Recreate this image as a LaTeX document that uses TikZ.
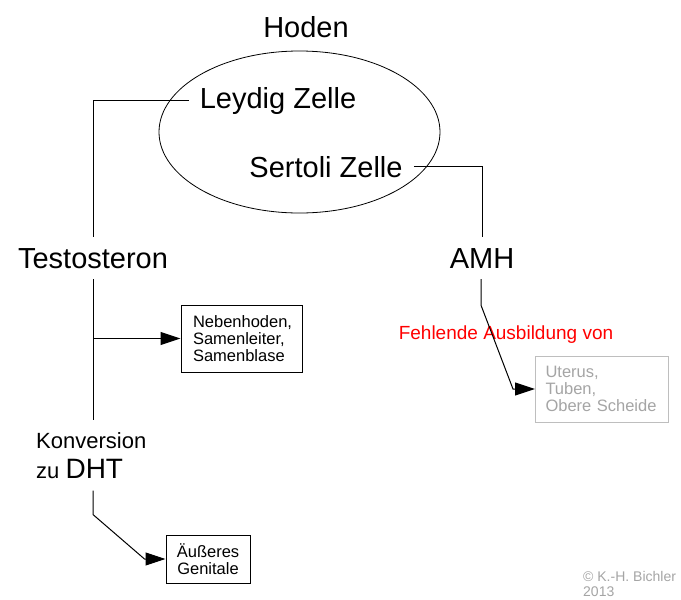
\documentclass[tikz,border=0pt]{standalone}
\usepackage{fontspec}
\setmainfont{Liberation Sans}
\usetikzlibrary{shapes.geometric,arrows.meta}
\definecolor{lightgrey}{RGB}{190,190,190}
\definecolor{textgrey}{RGB}{165,165,165}
\begin{document}
\begin{tikzpicture}[x=1pt,y=-1pt,
  big/.style={font=\fontsize{29}{31}\selectfont, inner sep=11pt},
  small/.style={font=\fontsize{16.5}{17}\selectfont},
  sbox/.style={draw, line width=1pt, small, inner xsep=12pt, inner ysep=0pt},
  conn/.style={line width=1pt},
  arr/.style={line width=1pt, -{Triangle[length=20pt,width=13pt]}}]
\useasboundingbox (0,0) rectangle (681,600);
\fill[white] (0,0) rectangle (681,600);

\node[draw, ellipse, line width=0.8pt, minimum width=281pt, minimum height=162pt, inner sep=0pt] (ell) at (299.5,132) {};
\node[big, anchor=base] (hoden) at (306,37) {Hoden};
\node[big, anchor=base] (leydig) at (278,108) {Leydig Zelle};
\node[big, anchor=base] (sertoli) at (326,177) {Sertoli Zelle};
\node[big, anchor=base] (testo) at (93,268) {Testosteron};
\node[big, anchor=base] (amh) at (482,268) {AMH};

\node[font=\fontsize{22}{30}\selectfont, align=left, anchor=north west, inner xsep=0pt, inner ysep=12pt] (konv) at (36,420) {Konversion\\zu {\fontsize{28}{30}\selectfont DHT}};

\node[sbox, text width=97pt, align=left, minimum height=67pt] (neben) at (241.5,338.5) {Nebenhoden,\\Samenleiter,\\Samenblase};
\node[sbox, align=center, minimum width=84pt, minimum height=48pt, inner xsep=4pt] (aeuss) at (208,559) {Äußeres\\Genitale};
\node[sbox, draw=lightgrey, text=textgrey, text width=113pt, inner xsep=10pt, align=left, minimum height=66pt] (uterus) at (602,389) {Uterus,\\Tuben,\\Obere Scheide};

\node[font=\fontsize{19}{21}\selectfont, text=red, anchor=base, inner sep=0pt] (fehl) at (506,339) {Fehlende Ausbildung von};

\node[font=\fontsize{14}{15}\selectfont, text=textgrey, align=left, anchor=north west, inner sep=0pt] (copy) at (583,571) {© K.-H. Bichler\\2013};

\draw[conn] (leydig.west) -| (testo.north);
\draw[conn] (sertoli.east) -| (amh.north);
\draw[conn] (testo.south) -- (testo.south |- konv.north);
\draw[arr] (testo.south |- neben.west) -- (neben.west);
\draw[arr] (testo.south |- konv.south) -- ++(0,24) -- ([xshift=-21pt]aeuss.west) -- (aeuss.west);
\draw[arr] ([xshift=-1pt]amh.south) -- ++(0,26) -- ([xshift=-22pt]uterus.west) -- (uterus.west);
\end{tikzpicture}
\end{document}
